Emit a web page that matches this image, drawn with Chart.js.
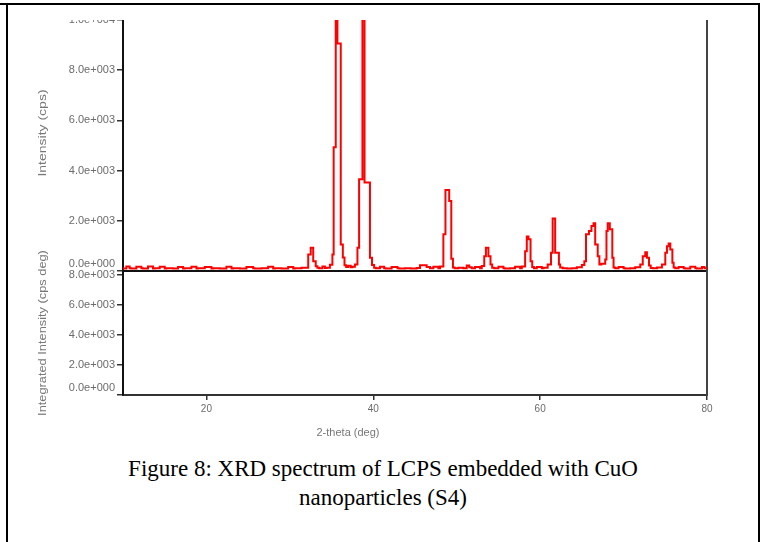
<!DOCTYPE html>
<html>
<head>
<meta charset="utf-8">
<script src="https://cdn.jsdelivr.net/npm/chart.js@4.4.1/dist/chart.umd.min.js"></script>
<style>
body { margin: 0; background: #fff; }
#page { position: relative; width: 767px; height: 542px; overflow: hidden; font-family: "Liberation Sans", Arial, sans-serif; }
.ln { position: absolute; background: #000; }
canvas { position: absolute; left: 0; }
.ttl { position: absolute; font-size: 10px; color: #777; white-space: nowrap; }
#caption { position: absolute; left: 8px; width: 750px; top: 454px; text-align: center; font-family: "Liberation Serif", "Times New Roman", serif; font-size: 23px; line-height: 29px; color: #000; }
</style>
</head>
<body>
<div id="page">
  <div class="ln" style="left:0;top:3px;width:760px;height:2px"></div>
  <div class="ln" style="left:6px;top:3px;width:2px;height:539px"></div>
  <div class="ln" style="left:758px;top:3px;width:2px;height:539px"></div>

  <canvas id="xrd" width="767" height="252" style="top:20px"></canvas>
  <canvas id="integ" width="767" height="190" style="top:250px"></canvas>

  <div class="ttl" style="left:42px;top:133px;transform:translate(-50%,-50%) rotate(-90deg) scaleX(1.4)">Intensity (cps)</div>
  <div class="ttl" style="left:42px;top:333px;transform:translate(-50%,-50%) rotate(-90deg) scaleX(1.28)">Integrated Intensity (cps deg)</div>
  <div class="ttl" style="left:348px;top:432px;transform:translate(-50%,-50%) scaleX(1.1)">2-theta (deg)</div>

  <div id="caption">Figure 8: XRD spectrum of LCPS embedded with CuO<br>nanoparticles (S4)</div>
</div>
<script>
// 2-theta (deg) et intensité (cps)
var twoTheta = [10.0, 10.4, 10.8, 11.0, 11.6, 12.2, 12.4, 13.0, 13.6, 13.8, 14.4, 15.0, 15.2, 16.0, 16.6, 17.2, 17.4, 18.2, 18.8, 19.0,
  19.8, 20.6, 20.8, 21.6, 22.4, 23.0, 23.2, 24.0, 24.8, 25.6, 25.8, 26.6, 27.4, 28.0, 28.2, 29.0, 29.8, 30.4, 30.6, 31.4,
  32.2, 32.5, 32.8, 33.1, 33.3, 33.5, 33.9, 34.2, 34.4, 34.8, 35.1, 35.25, 35.5, 35.7, 36.1, 36.35, 36.55, 36.75, 37.0, 37.3,
  37.5, 37.8, 38.1, 38.3, 38.7, 38.95, 39.6, 39.85, 40.1, 40.3, 40.8, 41.3, 41.5, 42.2, 42.9, 43.1, 43.8, 44.5, 45.2, 45.6,
  46.4, 46.8, 47.2, 47.8, 48.0, 48.4, 48.65, 49.1, 49.35, 49.55, 49.75, 50.2, 50.8, 51.2, 51.5, 51.8, 52.2, 52.8, 53.0, 53.3,
  53.5, 53.8, 54.05, 54.25, 54.5, 55.0, 55.6, 55.8, 56.4, 57.0, 57.6, 57.8, 58.2, 58.4, 58.6, 58.85, 59.05, 59.25, 59.6, 60.2,
  60.4, 60.9, 61.3, 61.5, 61.8, 62.25, 62.4, 62.7, 63.2, 63.8, 64.4, 65.0, 65.3, 65.5, 65.85, 66.15, 66.4, 66.6, 66.9, 67.1,
  67.35, 67.8, 67.95, 68.1, 68.35, 68.65, 68.8, 69.0, 69.4, 70.0, 70.2, 70.8, 71.4, 72.0, 72.3, 72.6, 72.8, 73.05, 73.25, 73.5,
  74.0, 74.6, 75.0, 75.2, 75.4, 75.6, 75.85, 76.0, 76.2, 76.6, 77.2, 77.4, 78.0, 78.6, 78.8, 79.4, 79.7, 79.85, 80.0];
var counts = [110, 100, 180, 110, 100, 170, 110, 100, 180, 100, 110, 170, 100, 110, 100, 160, 100, 110, 170, 100,
  110, 160, 100, 110, 100, 170, 100, 110, 100, 160, 110, 100, 110, 170, 100, 110, 100, 160, 100, 110,
  130, 660, 930, 390, 190, 130, 110, 180, 120, 130, 250, 660, 4930, 12500, 9060, 1060, 540, 230, 160, 210,
  150, 170, 260, 930, 3660, 12500, 3530, 530, 240, 130, 110, 170, 110, 100, 160, 110, 100, 110, 100, 120,
  230, 160, 110, 170, 110, 180, 1460, 3230, 2790, 490, 140, 110, 130, 110, 220, 150, 110, 160, 110, 200,
  590, 930, 590, 260, 130, 110, 170, 110, 100, 110, 170, 110, 180, 790, 1370, 1260, 390, 160, 110, 160,
  110, 130, 260, 730, 2090, 730, 260, 140, 110, 100, 110, 150, 240, 390, 1460, 1590, 1790, 1900, 1060, 590,
  260, 290, 460, 1590, 1900, 1660, 530, 140, 110, 160, 110, 100, 110, 150, 260, 590, 750, 530, 220, 120,
  110, 140, 260, 730, 990, 1100, 860, 330, 140, 110, 160, 110, 100, 170, 110, 100, 160, 110, 110];

var xTicks = [20, 40, 60, 80];
var yTicksTop = [0, 2000, 4000, 6000, 8000, 10000];
var yTicksBottom = [0, 2000, 4000, 6000, 8000];

function sci(v) { // format 2.0e+003, le zéro est remonté d'une demi-ligne comme sur l'original
  if (v == 0) return ['0.0e+000', ''];
  var e = Math.floor(Math.log10(v));
  var m = v / Math.pow(10, e);
  return m.toFixed(1) + 'e+' + ('000' + e).slice(-3);
}

var tickFont = { family: '"Liberation Sans", Arial, sans-serif', size: 11, lineHeight: 1.2 };
var xTickFont = { family: '"Liberation Sans", Arial, sans-serif', size: 10 };
var tickColor = '#6b6b6b';

var pts = [];
for (var i = 0; i < twoTheta.length; i++) {
  pts.push({ x: twoTheta[i], y: counts[i] });
}

var chart1 = new Chart(document.getElementById('xrd'), {
  type: 'line',
  data: {
    datasets: [{
      data: pts,
      borderColor: '#ff0000',
      borderWidth: 2,
      pointRadius: 0,
      stepped: 'after',
      fill: false
    }]
  },
  options: {
    responsive: false,
    animation: false,
    layout: { padding: { top: 0, right: 60, bottom: 0, left: 0 } },
    plugins: { legend: { display: false }, tooltip: { enabled: false } },
    scales: {
      x: {
        type: 'linear', min: 10, max: 80,
        ticks: { display: false },
        grid: { display: false },
        border: { display: true, color: '#111', width: 2 },
        afterFit: function(s) { s.height = 1; }
      },
      y: {
        min: 0, max: 10000,
        afterBuildTicks: function(s) { s.ticks = yTicksTop.map(function(v) { return { value: v }; }); },
        ticks: { callback: sci, font: tickFont, color: tickColor, padding: 2 },
        grid: { drawOnChartArea: false, tickLength: 6, color: '#333', lineWidth: 1.5 },
        border: { color: '#111', width: 2 },
        afterFit: function(s) { s.width = 123; s.paddingTop = 0; s.paddingBottom = 0; }
      },
      y2: {
        position: 'right', min: 0, max: 1,
        ticks: { display: false },
        grid: { display: false },
        border: { display: true, color: '#444', width: 2 },
        afterFit: function(s) { s.width = 0; }
      }
    }
  }
});

var chart2 = new Chart(document.getElementById('integ'), {
  type: 'line',
  data: { datasets: [] },
  options: {
    responsive: false,
    animation: false,
    layout: { padding: { top: 21, right: 60, bottom: 15, left: 0 } },
    plugins: { legend: { display: false }, tooltip: { enabled: false } },
    scales: {
      x: {
        type: 'linear', min: 10, max: 80,
        afterBuildTicks: function(s) { s.ticks = xTicks.map(function(v) { return { value: v }; }); },
        ticks: { font: xTickFont, color: tickColor, padding: 3, maxRotation: 0 },
        grid: { drawOnChartArea: false, tickLength: 5, color: '#333', lineWidth: 1.5 },
        border: { color: '#333', width: 2 },
        afterFit: function(s) { s.height = 30; }
      },
      y: {
        type: 'linear', min: 0, max: 8270,
        afterBuildTicks: function(s) { s.ticks = yTicksBottom.map(function(v) { return { value: v }; }); },
        ticks: { callback: sci, font: tickFont, color: tickColor, padding: 2 },
        grid: { drawOnChartArea: false, tickLength: 6, color: '#333', lineWidth: 1.5 },
        border: { color: '#111', width: 2 },
        afterFit: function(s) { s.width = 123; s.paddingTop = 0; s.paddingBottom = 0; }
      },
      y2: {
        type: 'linear', position: 'right', min: 0, max: 1,
        ticks: { display: false },
        grid: { display: false },
        border: { display: true, color: '#444', width: 2 },
        afterFit: function(s) { s.width = 0; }
      }
    }
  }
});
</script>
</body>
</html>
